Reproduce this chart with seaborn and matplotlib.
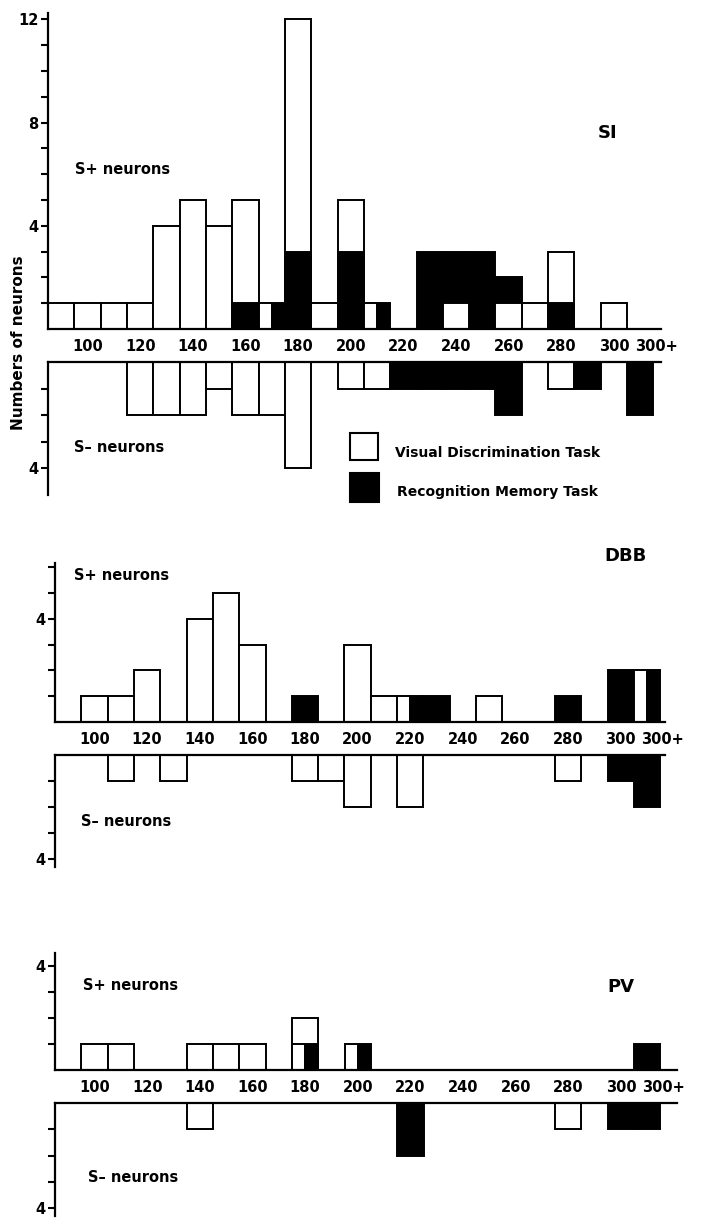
import matplotlib
matplotlib.use("Agg")
import matplotlib.pyplot as plt
import numpy as np
import pandas as pd
import seaborn as sns
from matplotlib.patches import Rectangle

# ---------------- data ----------------
bins = [str(b) for b in range(90, 310, 10)] + ["300+"]
tick_labels = ["100", "120", "140", "160", "180", "200", "220", "240",
               "260", "280", "300", "300+"]
tasks = ["Visual Discrimination Task", "Recognition Memory Task"]

si_plus_visual = [1, 1, 1, 1, 4, 5, 4, 5, 1, 12, 1, 5, 1, 0, 0, 1, 0, 1, 1, 3, 0, 1, 0]
si_plus_recog = [0, 0, 0, 0, 0, 0, 0, 1, 1, 3, 0, 3, 1, 0, 3, 3, 3, 2, 0, 1, 0, 0, 0]
si_plus_split = ["170", "210"]
si_minus_visual = [0, 0, 0, 2, 2, 2, 1, 2, 2, 4, 0, 1, 1, 0, 0, 0, 0, 0, 0, 1, 0, 0, 0]
si_minus_recog = [0, 0, 0, 0, 0, 0, 0, 0, 0, 0, 0, 0, 0, 1, 1, 1, 1, 2, 0, 0, 1, 0, 2]

dbb_plus_visual = [0, 1, 1, 2, 0, 4, 5, 3, 0, 0, 0, 3, 1, 1, 0, 0, 1, 0, 0, 0, 0, 0, 2]
dbb_plus_recog = [0, 0, 0, 0, 0, 0, 0, 0, 0, 1, 0, 0, 0, 1, 1, 0, 0, 0, 0, 1, 0, 2, 2]
dbb_plus_split = ["220", "300+"]
dbb_minus_visual = [0, 0, 1, 0, 1, 0, 0, 0, 0, 1, 1, 2, 0, 2, 0, 0, 0, 0, 0, 1, 0, 0, 0]
dbb_minus_recog = [0, 0, 0, 0, 0, 0, 0, 0, 0, 0, 0, 0, 0, 0, 0, 0, 0, 0, 0, 0, 0, 1, 2]

pv_plus_visual = [0, 1, 1, 0, 0, 1, 1, 1, 0, 2, 0, 1, 0, 0, 0, 0, 0, 0, 0, 0, 0, 0, 0]
pv_plus_recog = [0, 0, 0, 0, 0, 0, 0, 0, 0, 1, 0, 1, 0, 0, 0, 0, 0, 0, 0, 0, 0, 0, 1]
pv_plus_split = ["180", "200"]
pv_minus_visual = [0, 0, 0, 0, 0, 1, 0, 0, 0, 0, 0, 0, 0, 0, 0, 0, 0, 0, 0, 1, 0, 0, 0]
pv_minus_recog = [0, 0, 0, 0, 0, 0, 0, 0, 0, 0, 0, 0, 0, 2, 0, 0, 0, 0, 0, 0, 0, 1, 1]

panel_names = ["SI", "DBB", "PV"]

# ---------------- style ----------------
sns.set_style("ticks")
plt.rcParams["font.family"] = ["DejaVu Sans"]
plt.rcParams["font.weight"] = "bold"
plt.rcParams["text.color"] = "black"
plt.rcParams["axes.labelcolor"] = "black"
plt.rcParams["xtick.color"] = "black"
plt.rcParams["ytick.color"] = "black"
plt.rcParams["axes.edgecolor"] = "black"
palette = {tasks[0]: "white", tasks[1]: "black"}

W, H = 701, 1219
fig = plt.figure(figsize=(W / 100, H / 100), dpi=100)
fig.patch.set_facecolor("white")


def add_axes(L, R, T, B):
    return fig.add_axes([L / W, 1 - B / H, (R - L) / W, (B - T) / H])


def draw(ax, vis, rec, split):
    back, front, halves = [], [], []
    for b, v, r in zip(bins, vis, rec):
        if b in split:
            if v != r:
                back.append((b, max(v, r), tasks[0] if v > r else tasks[1]))
            halves.append((bins.index(b), min(v, r)))
        else:
            big, small = ((tasks[0], v), (tasks[1], r)) if v >= r else ((tasks[1], r), (tasks[0], v))
            if big[1] > 0:
                back.append((b, big[1], big[0]))
            if small[1] > 0:
                front.append((b, small[1], small[0]))
    for layer in (back, front):
        if not layer:
            continue
        df = pd.DataFrame(layer, columns=["bin", "count", "task"])
        sns.barplot(data=df, x="bin", y="count", hue="task", order=bins,
                    hue_order=tasks, palette=palette, dodge=False, width=1,
                    saturation=1, edgecolor="black", linewidth=1.4,
                    errorbar=None, legend=False, ax=ax)
    for idx, m in halves:
        ax.bar(idx - 0.25, m, width=0.5, color="white", edgecolor="black", linewidth=1.4)
        ax.bar(idx + 0.25, m, width=0.5, color="black", edgecolor="black", linewidth=1.4)
    ax.set_xlabel("")
    ax.set_ylabel("")


def style_axis(ax, plus, ymax, yticks, ylabels, xmax, show_xlabels):
    for s in ax.spines.values():
        s.set_linewidth(1.6)
        s.set_color("black")
    ax.spines["right"].set_visible(False)
    if plus:
        ax.spines["top"].set_visible(False)
        ax.set_ylim(0, ymax)
    else:
        ax.spines["bottom"].set_visible(False)
        ax.set_ylim(ymax, 0)
    ax.set_xlim(-0.5, xmax)
    ax.set_yticks(yticks)
    ax.set_yticklabels(ylabels)
    ax.tick_params(axis="y", direction="out", length=5, width=1.5,
                   labelsize=10.5, pad=2, colors="black")
    if show_xlabels:
        pos = [bins.index(t) for t in tick_labels[:-1]] + [22.6]
        ax.set_xticks(pos)
        ax.set_xticklabels(tick_labels, fontsize=10.5, fontweight="bold", color="black")
        ax.tick_params(axis="x", length=0, pad=7)
    else:
        ax.set_xticks([])
    ax.patch.set_alpha(0)


def lab4(n, labelled):
    return [str(i) if i in labelled else "" for i in range(1, n + 1)]


# SI
ax = add_axes(48, 660.5, 13, 329)
draw(ax, si_plus_visual, si_plus_recog, si_plus_split)
style_axis(ax, True, 316 / 25.8, list(range(1, 13)), lab4(12, (4, 8, 12)), 22.77, True)
ax = add_axes(48, 660.5, 362, 495)
draw(ax, si_minus_visual, si_minus_recog, [])
style_axis(ax, False, 133 / 26.5, [1, 2, 3, 4], lab4(4, (4,)), 22.77, False)

# DBB
ax = add_axes(55, 665, 563, 722)
draw(ax, dbb_plus_visual, dbb_plus_recog, dbb_plus_split)
style_axis(ax, True, 159 / 25.8, list(range(1, 7)), lab4(6, (4,)), 22.68, True)
ax = add_axes(55, 665, 755, 867)
draw(ax, dbb_minus_visual, dbb_minus_recog, [])
style_axis(ax, False, 112 / 26.0, [1, 2, 3, 4], lab4(4, (4,)), 22.68, False)

# PV
ax = add_axes(55, 677, 953, 1070)
draw(ax, pv_plus_visual, pv_plus_recog, pv_plus_split)
style_axis(ax, True, 117 / 25.9, [1, 2, 3, 4], lab4(4, (4,)), 23.13, True)
ax = add_axes(55, 677, 1103, 1216)
draw(ax, pv_minus_visual, pv_minus_recog, [])
style_axis(ax, False, 113 / 26.3, [1, 2, 3, 4], lab4(4, (4,)), 23.13, False)


def ftext(x, y, s, **kw):
    fig.text(x / W, 1 - y / H, s, color="black", **kw)


for name, (x, y) in zip(panel_names, [(608, 133), (625, 556), (621, 987)]):
    ftext(x, y, name, ha="center", va="center", fontsize=13, fontweight="bold")

for (x, y) in [(75, 170), (74, 575), (83, 985)]:
    ftext(x, y, "S+ neurons", ha="left", va="center", fontsize=10.5, fontweight="bold")
for (x, y) in [(74, 448), (81, 822), (88, 1178)]:
    ftext(x, y, "S\u2013 neurons", ha="left", va="center", fontsize=10.5, fontweight="bold")

ftext(19, 343, "Numbers of neurons", rotation=90, ha="center", va="center",
      fontsize=11, fontweight="bold")

# legend
for (x0, y0, x1, y1), task, (tx, ty) in zip(
        [(350, 433, 378, 460), (350, 473, 379, 502)], tasks,
        [(395, 453), (397, 492)]):
    fig.add_artist(Rectangle((x0 / W, 1 - y1 / H), (x1 - x0) / W, (y1 - y0) / H,
                             transform=fig.transFigure, facecolor=palette[task],
                             edgecolor="black", linewidth=1.5))
    ftext(tx, ty, task, ha="left", va="center", fontsize=10, fontweight="bold")

fig.savefig("out.png", dpi=100, facecolor="white")
